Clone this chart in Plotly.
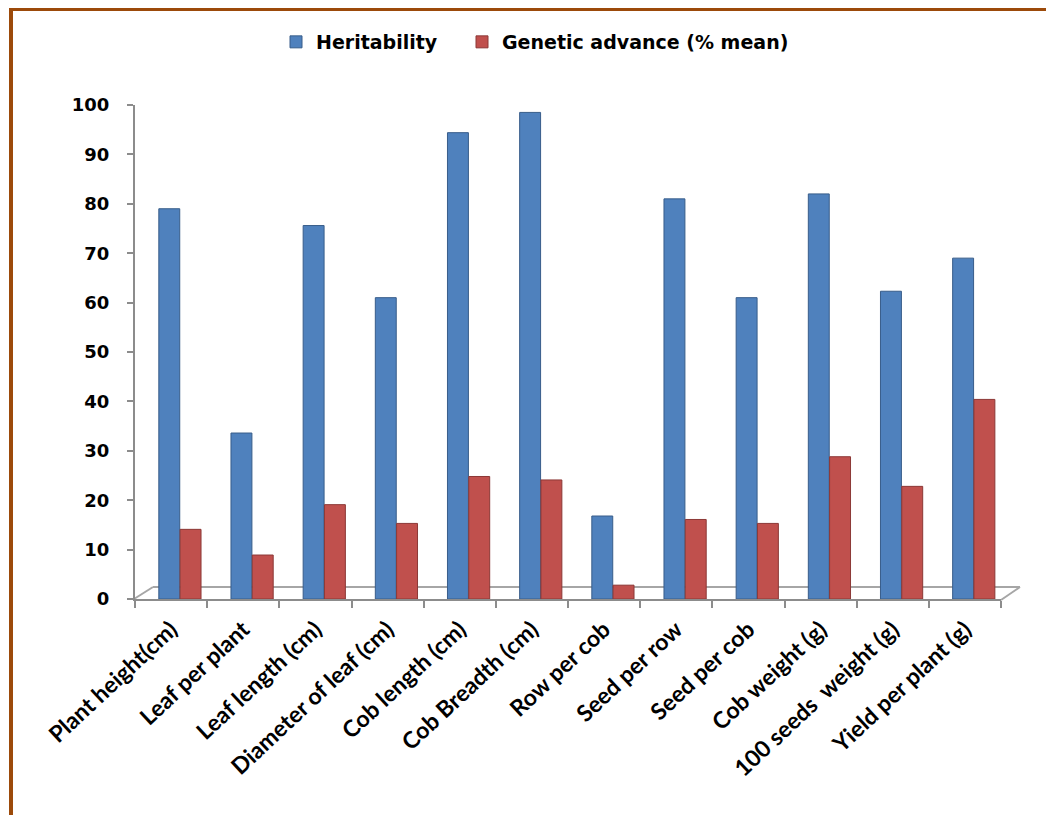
import plotly.graph_objects as go

categories = ["Plant height(cm)", "Leaf per plant", "Leaf length (cm)", "Diameter of leaf (cm)",
              "Cob length (cm)", "Cob Breadth (cm)", "Row per cob", "Seed per row",
              "Seed per cob", "Cob weight (g)", "100 seeds  weight (g)", "Yield per plant (g)"]
heritability = [79, 33.6, 75.6, 61, 94.4, 98.5, 16.8, 81, 61, 82, 62.3, 69]
genetic_advance = [14.1, 8.9, 19.1, 15.3, 24.8, 24.1, 2.8, 16.1, 15.3, 28.8, 22.8, 40.4]
y_ticks = [0, 10, 20, 30, 40, 50, 60, 70, 80, 90, 100]

# page is offset by the 8px body margin
OFF = 8
W, H = 1054 - OFF, 815 - OFF
L, R, T, B = 135, 1001, 105, 599  # plot area in page pixels

def px(x):
    return (x - L) / (R - L)

def py(y):
    return (B - y) / (B - T)

fig = go.Figure()
fig.add_trace(go.Bar(
    name="Heritability", x=categories, y=heritability,
    offset=-0.17, width=0.29, legend="legend",
    marker=dict(color="#4F81BD", line=dict(color="#385D8A", width=1)),
))
fig.add_trace(go.Bar(
    name="Genetic advance (% mean)", x=categories, y=genetic_advance,
    offset=0.125, width=0.29, legend="legend2",
    marker=dict(color="#C0504D", line=dict(color="#8C3836", width=1)),
))

grey = "#8C8C8C"
shapes = [
    dict(type="line", xref="paper", yref="paper", x0=px(153), y0=py(587), x1=px(1020), y1=py(587),
         line=dict(color="#A6A6A6", width=2), layer="below"),
    dict(type="line", xref="paper", yref="paper", x0=px(134), y0=py(599), x1=px(153), y1=py(587),
         line=dict(color="#A6A6A6", width=2), layer="below"),
    dict(type="line", xref="paper", yref="paper", x0=px(1001), y0=py(600), x1=px(1020), y1=py(587),
         line=dict(color="#A6A6A6", width=2), layer="below"),
    dict(type="line", xref="paper", yref="paper", x0=px(9), y0=py(9), x1=px(1060), y1=py(9),
         line=dict(color="#9C4A0A", width=4)),
    dict(type="line", xref="paper", yref="paper", x0=px(11), y0=py(7), x1=px(11), y1=py(820),
         line=dict(color="#9C4A0A", width=4)),
]

legend_font = dict(family="DejaVu Sans, sans-serif", size=19, color="black", weight="bold")

fig.update_layout(
    width=W, height=H,
    margin=dict(l=L - OFF, r=W - (R - OFF), t=T - OFF, b=H - (B - OFF), pad=0),
    paper_bgcolor="white", plot_bgcolor="white",
    barmode="overlay",
    showlegend=True,
    legend=dict(orientation="h", x=px(276), xanchor="left", y=py(42), yanchor="middle",
                font=legend_font, bgcolor="rgba(0,0,0,0)"),
    legend2=dict(orientation="h", x=px(462), xanchor="left", y=py(42), yanchor="middle",
                 font=legend_font, bgcolor="rgba(0,0,0,0)"),
    xaxis=dict(type="category", categoryorder="array", categoryarray=categories,
               showline=True, linecolor=grey, linewidth=2,
               ticks="outside", ticklen=7, tickcolor=grey, tickwidth=2,
               tickson="boundaries", ticklabelstandoff=6,
               tickangle=-43, showgrid=False,
               tickfont=dict(family="Lato, sans-serif", size=23, color="black", weight="bold")),
    yaxis=dict(range=[0, 100], tickvals=y_ticks, ticktext=[str(v) for v in y_ticks],
               showline=True, linecolor=grey, linewidth=2,
               ticks="outside", ticklen=6, tickcolor=grey, tickwidth=2,
               ticklabelstandoff=14,
               showgrid=False, zeroline=False,
               tickfont=dict(family="DejaVu Sans, sans-serif", size=18, color="black", weight="bold")),
    shapes=shapes,
)

fig.write_html("out.html")
